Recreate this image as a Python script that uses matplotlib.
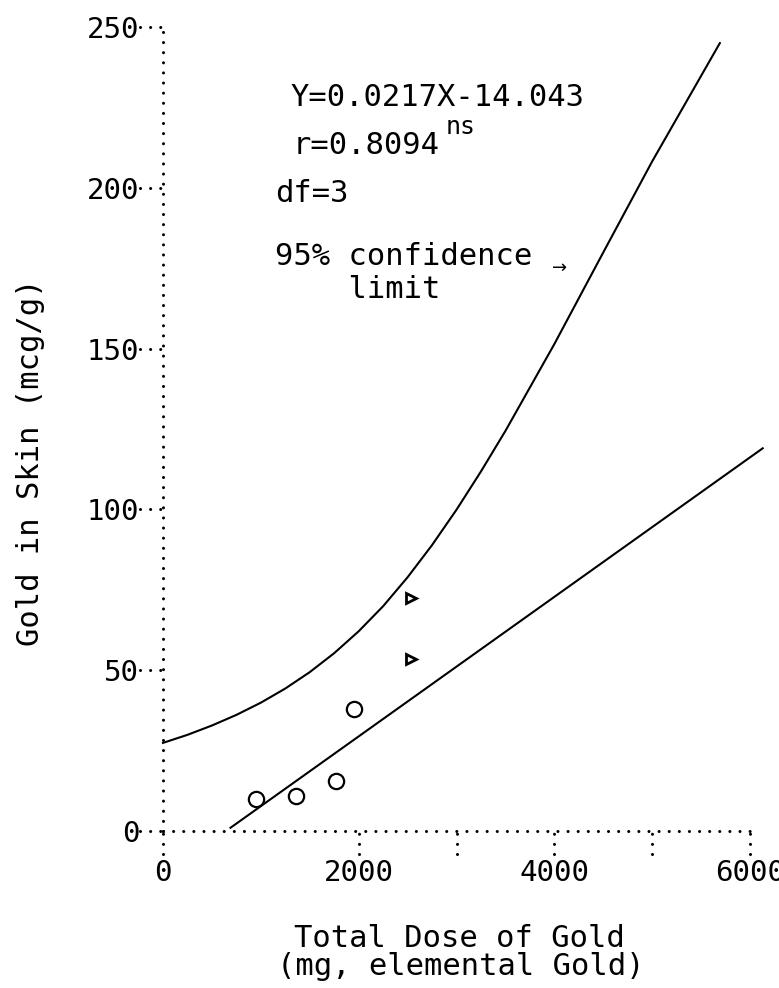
import matplotlib
matplotlib.use("Agg")
import matplotlib.pyplot as plt

W, H = 779, 988

# values
circle_dose = [950, 1360, 1770, 1950]
circle_gold = [10, 11, 15.5, 38]
triangle_dose = [2530, 2530]
triangle_gold = [72.5, 53.5]

# regression line Y = 0.0217X - 14.043 (end points as drawn)
reg_dose = [690, 6130]
reg_gold = [1, 119]

# upper 95% confidence limit, points along the drawn curve
upper_dose = [0, 250, 500, 750, 1000, 1250, 1500, 1750, 2000, 2250, 2500,
              2750, 3000, 3250, 3500, 4000, 4500, 5000, 5692]
upper_gold = [27.4, 29.9, 32.8, 36.1, 39.9, 44.3, 49.4, 55.3, 62.1, 69.9,
              78.9, 88.9, 99.9, 111.8, 124.4, 151.4, 179.9, 208.2, 245]

xtick_labels = [0, 2000, 4000, 6000]
xtick_marks = [0, 2000, 3000, 4000, 5000, 6000]
ytick_vals = [0, 50, 100, 150, 200, 250]

plt.rcParams['font.family'] = ['DejaVu Sans Mono', 'DejaVu Sans']


def fig_xy(px, py):
    """pixel position of the reference -> figure fraction"""
    return px / W, 1 - py / H


fig = plt.figure(figsize=(W / 100, H / 100), dpi=100)
left, bottom = fig_xy(163, 831)
ax = fig.add_axes([left, bottom, 587 / W, 804 / H])
ax.set_xlim(0, 6000)
ax.set_ylim(0, 250)

# dotted axes, like the typewriter original
dots = (0, (0.01, 3.3))
for side in ['top', 'right']:
    ax.spines[side].set_visible(False)
for side in ['left', 'bottom']:
    sp = ax.spines[side]
    sp.set_linestyle(dots)
    sp.set_linewidth(2.2)
    sp.set_capstyle('round')
ax.spines['left'].set_bounds(0, 250)
ax.spines['bottom'].set_bounds(0, 6000)

# dotted tick marks
for y in ytick_vals:
    ax.plot([-230, 0], [y, y], ls=dots, lw=2.2, color='k',
            dash_capstyle='round', clip_on=False)
for x in xtick_marks:
    ax.plot([x, x], [-7, 0], ls=dots, lw=2.2, color='k',
            dash_capstyle='round', clip_on=False)

ax.set_xticks(xtick_labels)
ax.set_yticks(ytick_vals)
ax.tick_params(length=0, labelsize=21)
ax.tick_params(axis='x', pad=20)
ax.tick_params(axis='y', pad=17)

# curves
ax.plot(reg_dose, reg_gold, color='k', lw=1.5, clip_on=False)
ax.plot(upper_dose, upper_gold, color='k', lw=1.5, clip_on=False,
        solid_joinstyle='round')

# data points
ax.plot(circle_dose, circle_gold, 'o', ms=11, mfc='none', mec='k', mew=1.6,
        clip_on=False)
ax.plot(triangle_dose, triangle_gold, '>', ms=7, mfc='none', mec='k', mew=2,
        clip_on=False)

# annotations
txt = dict(ha='left', va='center', size=22)
fig.text(*fig_xy(290, 97), 'Y=0.0217X-14.043', **txt)
fig.text(*fig_xy(293, 145), 'r=0.8094', **txt)
fig.text(*fig_xy(446, 127), 'ns', ha='left', va='center', size=18)
fig.text(*fig_xy(275, 194), 'df=3', **txt)
fig.text(*fig_xy(275, 273), '95% confidence\n    limit', linespacing=1.15,
         **txt)
fig.text(*fig_xy(552, 268), '→', ha='left', va='center', size=13,
         family='DejaVu Sans')

# axis titles
fig.text(*fig_xy(31, 462), 'Gold in Skin (mcg/g)', rotation=90,
         ha='center', va='center', size=22)
fig.text(*fig_xy(459, 938), 'Total Dose of Gold', ha='center', va='center',
         size=22)
fig.text(*fig_xy(461, 966), '(mg, elemental Gold)', ha='center',
         va='center', size=22)

fig.savefig('out.png', dpi=100)
